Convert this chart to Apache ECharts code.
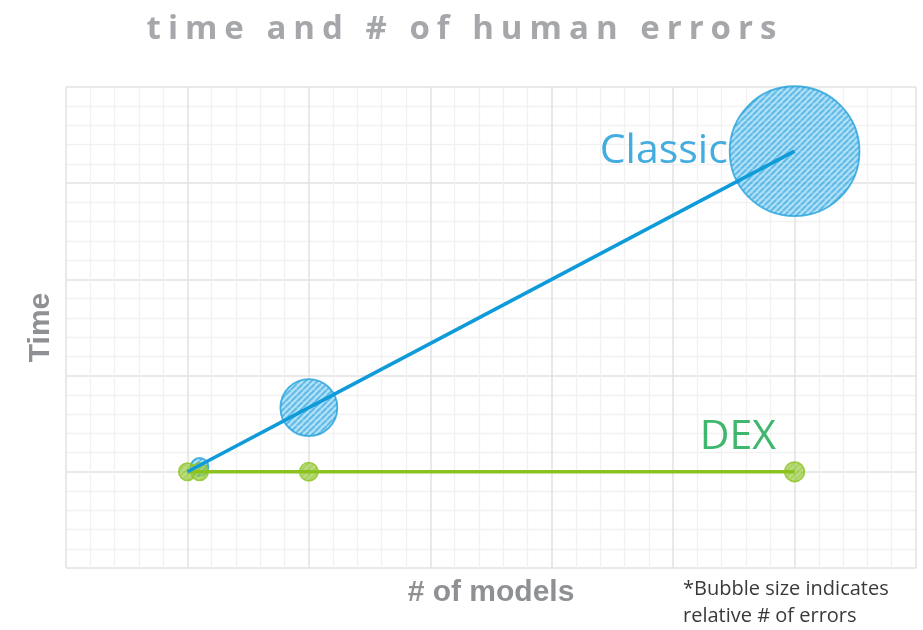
<!DOCTYPE html>
<html>
<head>
<meta charset="utf-8">
<script src="https://cdn.jsdelivr.net/npm/echarts@6/dist/echarts.min.js"></script>
<style>
  html, body { margin: 0; padding: 0; background: #fff; }
  #chart { width: 923px; height: 630px; }
</style>
</head>
<body>
<div id="chart"></div>
<script>
// ---- data ----
const titleText = 'time and # of human errors';
const xAxisName = '# of models';
const yAxisName = 'Time';
const footnoteLines = ['*Bubble size indicates', 'relative # of errors'];

const classicName = 'Classic';
const classicModels = [1.1, 2, 6];
const classicTime = [1.05, 1.667, 4.333];
const classicErrors = [1, 10, 52];
const classicLineModels = [1, 2, 6];
const classicLineTime = [1, 1.667, 4.333];

const dexName = 'DEX';
const dexModels = [1, 1.1, 2, 6];
const dexTime = [1, 1, 1, 1];
const dexErrors = [0.95, 0.95, 1.05, 1.2];
const dexLineModels = [1, 6];
const dexLineTime = [1, 1];

// ---- letter spacing for the title (canvas) ----
(function () {
  const proto = CanvasRenderingContext2D.prototype;
  const orig = proto.fillText;
  proto.fillText = function (t, x, y, m) {
    if (t === titleText && 'letterSpacing' in this) {
      const prev = this.letterSpacing;
      this.letterSpacing = '7px';
      orig.call(this, t, x + 3.5, y);
      this.letterSpacing = prev;
      return;
    }
    return m === undefined ? orig.call(this, t, x, y) : orig.call(this, t, x, y, m);
  };
})();

// ---- hatch patterns ----
function hatchCanvas(bg, fg, size, lw) {
  const c = document.createElement('canvas');
  c.width = size; c.height = size;
  const g = c.getContext('2d');
  g.fillStyle = bg;
  g.fillRect(0, 0, size, size);
  g.strokeStyle = fg;
  g.lineWidth = lw;
  g.beginPath();
  for (let k = -1; k <= 1; k++) {
    g.moveTo(k * size, size);
    g.lineTo(k * size + size, 0);
  }
  g.stroke();
  return c;
}
const blueHatchCanvas = hatchCanvas('rgba(160,220,247,0.95)', 'rgba(40,160,222,0.95)', 6, 2);
const greenHatchCanvas = hatchCanvas('rgba(140,195,45,0.92)', 'rgba(185,222,120,0.75)', 6, 1.6);

const bubbleK = 18; // px diameter per sqrt(error)
const diam = e => bubbleK * Math.sqrt(e);

// symbols are drawn in a [-1,1] box and scaled by size/2; counter-scale the pattern
function patternFor(canvas, size) {
  const s = 2 / size;
  return { image: canvas, repeat: 'repeat', scaleX: s, scaleY: s };
}

function buildItems(xs, ys, es, canvas) {
  return xs.map((x, i) => ({
    value: [x, ys[i], es[i]],
    itemStyle: { color: patternFor(canvas, diam(es[i])) }
  }));
}

const classicData = buildItems(classicModels, classicTime, classicErrors, blueHatchCanvas);
const dexData = buildItems(dexModels, dexTime, dexErrors, greenHatchCanvas);

const chart = echarts.init(document.getElementById('chart'), null, { renderer: 'canvas' });

const option = {
  backgroundColor: '#ffffff',
  animation: false,
  title: {
    text: titleText,
    left: 'center',
    top: 8,
    textStyle: {
      fontFamily: 'Open Sans',
      fontWeight: 'bold',
      fontSize: 33,
      color: '#a5a7aa'
    }
  },
  grid: { left: 66, right: 7, top: 87, bottom: 62, containLabel: false },
  xAxis: {
    type: 'value',
    min: 0, max: 7, interval: 1,
    name: xAxisName,
    nameLocation: 'middle',
    nameGap: 10,
    nameTextStyle: {
      fontFamily: 'Liberation Sans', fontWeight: 'bold', fontSize: 30,
      color: '#8e9094', verticalAlign: 'top'
    },
    axisLine: { show: false },
    axisTick: { show: false },
    axisLabel: { show: false },
    splitLine: { show: true, lineStyle: { color: '#e2e2e2', width: 1.5 } },
    minorTick: { show: false, splitNumber: 5 },
    minorSplitLine: { show: true, lineStyle: { color: '#f1f1f1', width: 1.3 } }
  },
  yAxis: {
    type: 'value',
    min: 0, max: 5, interval: 1,
    name: yAxisName,
    nameLocation: 'middle',
    nameGap: 10,
    nameRotate: 90,
    nameTextStyle: {
      fontFamily: 'Liberation Sans', fontWeight: 'bold', fontSize: 30,
      color: '#8e9094', verticalAlign: 'bottom'
    },
    axisLine: { show: false },
    axisTick: { show: false },
    axisLabel: { show: false },
    splitLine: { show: true, lineStyle: { color: '#e2e2e2', width: 1.5 } },
    minorTick: { show: false, splitNumber: 5 },
    minorSplitLine: { show: true, lineStyle: { color: '#f1f1f1', width: 1.3 } }
  },
  series: [
    {
      name: classicName,
      type: 'scatter',
      z: 2,
      data: classicData,
      symbolSize: v => diam(v[2]),
      itemStyle: {
        borderColor: '#22a0db',
        borderWidth: 1.8
      },
      label: {
        show: true,
        formatter: p => (p.dataIndex === classicData.length - 1 ? classicName : ''),
        position: 'left',
        distance: 1,
        fontFamily: 'Open Sans',
        fontWeight: 500,
        fontSize: 41,
        color: '#1498d7'
      }
    },
    {
      name: dexName,
      type: 'scatter',
      z: 3,
      data: dexData,
      symbolSize: v => diam(v[2]),
      itemStyle: {
        borderColor: '#8cc21f',
        borderWidth: 1.5
      },
      label: {
        show: true,
        formatter: p => (p.dataIndex === dexData.length - 1 ? dexName : ''),
        position: [-8, -24],
        align: 'right',
        verticalAlign: 'middle',
        fontFamily: 'Open Sans',
        fontWeight: 500,
        fontSize: 41,
        color: '#0fa548'
      }
    },
    {
      name: dexName + ' line',
      type: 'line',
      z: 4,
      data: dexLineModels.map((x, i) => [x, dexLineTime[i]]),
      symbol: 'none',
      lineStyle: { color: '#8cc21f', width: 3.5 },
      silent: true
    },
    {
      name: classicName + ' line',
      type: 'line',
      z: 5,
      data: classicLineModels.map((x, i) => [x, classicLineTime[i]]),
      symbol: 'none',
      lineStyle: { color: '#0f9bd9', width: 3.5 },
      silent: true
    }
  ],
  graphic: [
    {
      type: 'text',
      left: 683,
      top: 576,
      style: {
        text: footnoteLines.join('\n'),
        fontFamily: 'Open Sans',
        fontSize: 20,
        lineHeight: 27,
        fill: '#3a3a3a'
      }
    }
  ]
};

chart.setOption(option);
</script>
</body>
</html>
